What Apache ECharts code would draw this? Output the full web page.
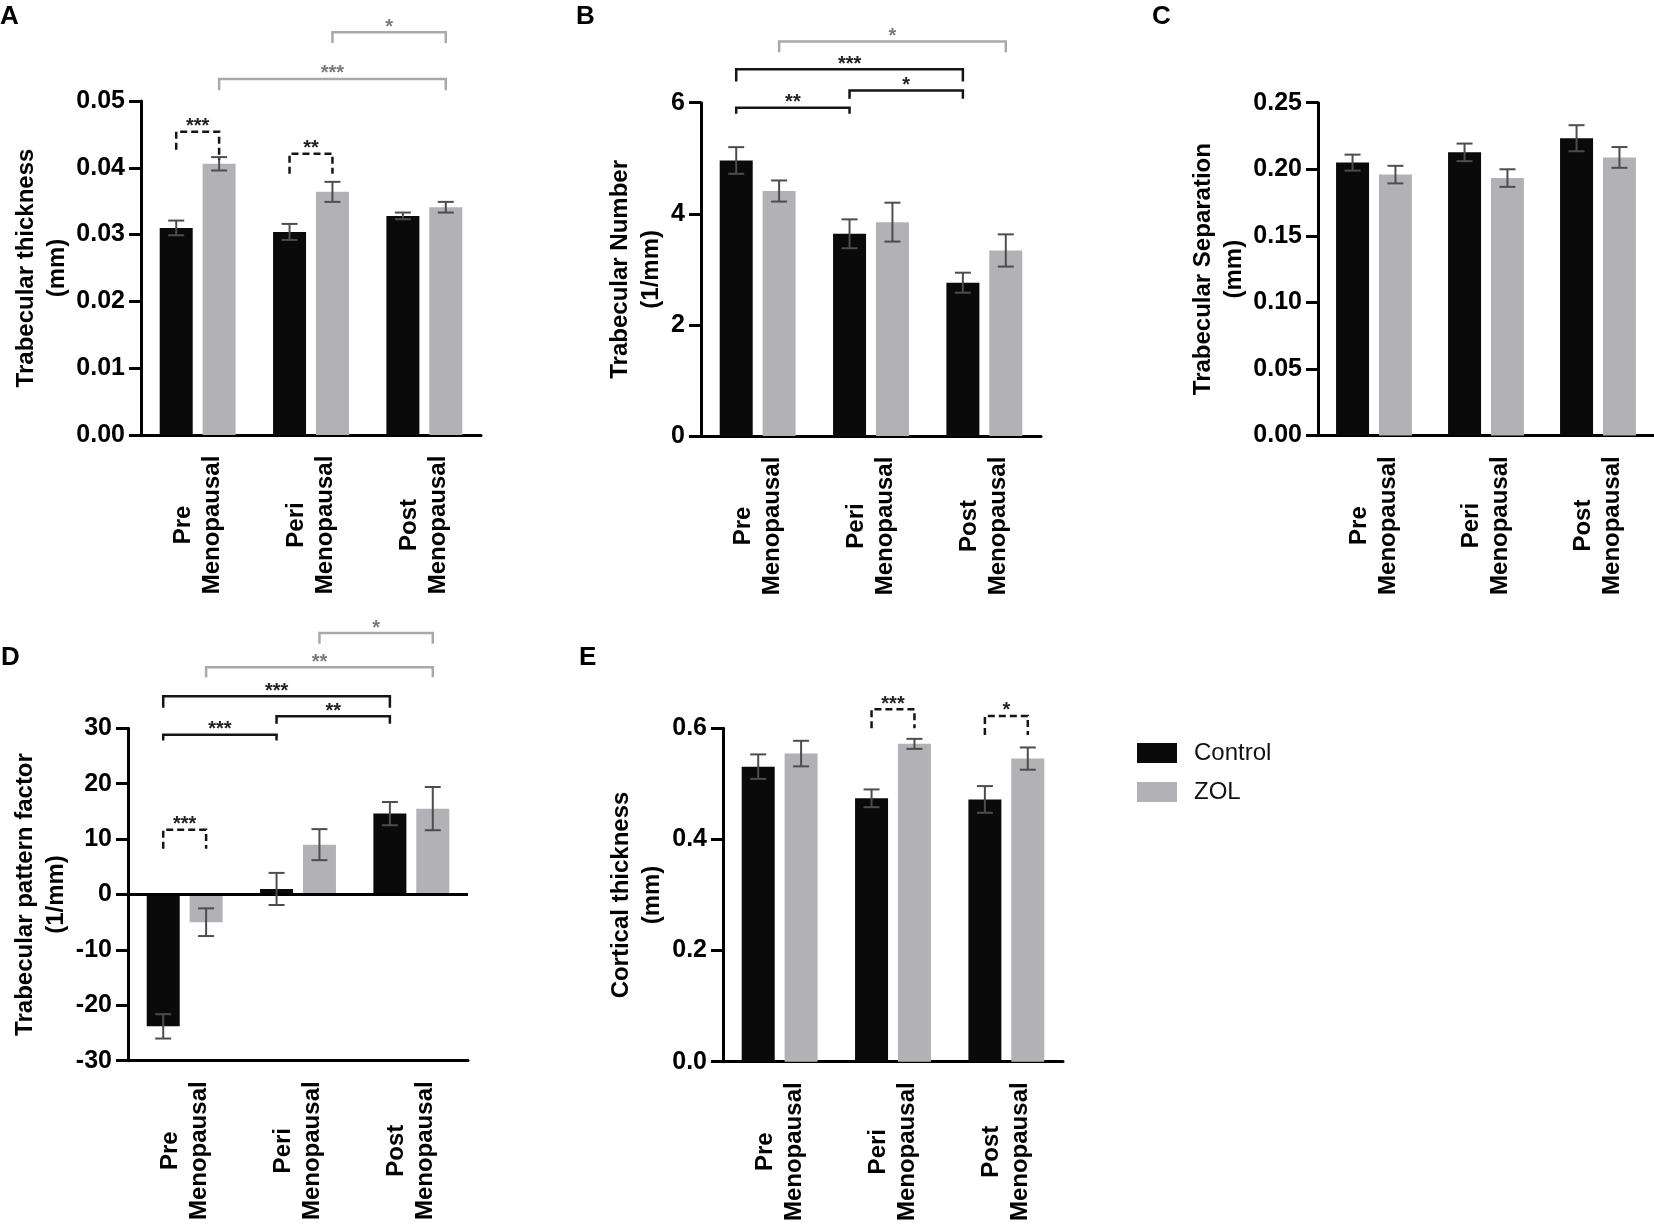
<!DOCTYPE html>
<html>
<head>
<meta charset="utf-8">
<script src="https://cdn.jsdelivr.net/npm/echarts@6/dist/echarts.min.js"></script>
<style>
html,body{margin:0;padding:0;background:#fff;}
#chart{width:1654px;height:1225px;}
</style>
</head>
<body>
<div id="chart"></div>
<script>
// ---------- data ----------
const categories = ['Pre\nMenopausal', 'Peri\nMenopausal', 'Post\nMenopausal'];
const seriesNames = ['Control', 'ZOL'];

const thicknessControl = [0.0310, 0.0304, 0.0328];
const thicknessControlErr = [0.0011, 0.0012, 0.0005];
const thicknessZOL = [0.0406, 0.0364, 0.0341];
const thicknessZOLErr = [0.0010, 0.0015, 0.0008];

const numberControl = [4.96, 3.64, 2.76];
const numberControlErr = [0.24, 0.26, 0.18];
const numberZOL = [4.41, 3.85, 3.34];
const numberZOLErr = [0.19, 0.35, 0.29];

const separationControl = [0.2050, 0.2127, 0.2233];
const separationControlErr = [0.0060, 0.0066, 0.0098];
const separationZOL = [0.1960, 0.1934, 0.2089];
const separationZOLErr = [0.0066, 0.0066, 0.0078];

const patternControl = [-23.8, 1.0, 14.6];
const patternControlErr = [2.2, 2.9, 2.1];
const patternZOL = [-5.0, 9.0, 15.5];
const patternZOLErr = [2.5, 2.8, 3.9];

const corticalControl = [0.531, 0.474, 0.472];
const corticalControlErr = [0.022, 0.016, 0.024];
const corticalZOL = [0.5545, 0.572, 0.5455];
const corticalZOLErr = [0.023, 0.009, 0.020];

// significance brackets: from/to = [category index, group index (0 Control, 1 ZOL)], y values in axis units
const bracketsA = [
  {from:[0,0], to:[0,1], y:0.0454, endL:0.0427, endR:0.0412, mark:'***', kind:'dash'},
  {from:[1,0], to:[1,1], y:0.0421, endL:0.0391, endR:0.0391, mark:'**', kind:'dash'},
  {from:[0,1], to:[2,1], y:0.0533, endL:0.0516, endR:0.0516, mark:'***', kind:'grey'},
  {from:[1,1], to:[2,1], y:0.0603, endL:0.0587, endR:0.0587, mark:'*', kind:'grey'}
];
const bracketsB = [
  {from:[0,1], to:[2,1], y:7.10, endL:6.91, endR:6.91, mark:'*', kind:'grey'},
  {from:[0,0], to:[2,0], y:6.60, endL:6.38, endR:6.38, mark:'***', kind:'black'},
  {from:[1,0], to:[2,0], y:6.22, endL:6.07, endR:6.07, mark:'*', kind:'black'},
  {from:[0,0], to:[1,0], y:5.91, endL:5.80, endR:5.80, mark:'**', kind:'black'}
];
const bracketsC = [];
const bracketsD = [
  {from:[0,0], to:[0,1], y:11.68, endL:8.25, endR:8.25, mark:'***', kind:'dash'},
  {from:[0,0], to:[1,0], y:28.83, endL:27.8, endR:27.8, mark:'***', kind:'black'},
  {from:[1,0], to:[2,0], y:32.18, endL:30.8, endR:30.8, mark:'**', kind:'black'},
  {from:[0,0], to:[2,0], y:35.8, endL:33.7, endR:33.7, mark:'***', kind:'black'},
  {from:[0,1], to:[2,1], y:41.0, endL:39.2, endR:39.2, mark:'**', kind:'grey'},
  {from:[1,1], to:[2,1], y:47.2, endL:45.25, endR:45.25, mark:'*', kind:'grey'}
];
const bracketsE = [
  {from:[1,0], to:[1,1], y:0.6344, endL:0.600, endR:0.600, mark:'***', kind:'dash'},
  {from:[2,0], to:[2,1], y:0.6223, endL:0.588, endR:0.588, mark:'*', kind:'dash'}
];

// ---------- layout / style ----------
const FONT = '"Liberation Sans", Arial, Helvetica, sans-serif';
const BAR_W = 33, BAR_GAP = 0.3;
const BAR_OFFSET = (BAR_W + BAR_W * BAR_GAP) / 2;
const CAP = 8;
const COLORS = ['#0a0a0a', '#b2b2b6'];
const ERR_COLOR = '#4d4d4d';

const panels = [
  {letter:'A', lx:0, ly:4, axisX:143, top:101, bottom:435, width:340, min:0, max:0.05, step:0.01, dec:2,
   name:'Trabecular thickness\n(mm)', nameGap:58, ctrl:thicknessControl, ctrlErr:thicknessControlErr, zol:thicknessZOL, zolErr:thicknessZOLErr, brackets:bracketsA},
  {letter:'B', lx:576, ly:4, axisX:703, top:102.7, bottom:436, width:340, min:0, max:6, step:2, dec:0,
   name:'Trabecular Number\n(1/mm)', nameGap:26, ctrl:numberControl, ctrlErr:numberControlErr, zol:numberZOL, zolErr:numberZOLErr, brackets:bracketsB},
  {letter:'C', lx:1152, ly:4, axisX:1320, top:102.7, bottom:435.6, width:336, min:0, max:0.25, step:0.05, dec:2,
   name:'Trabecular Separation\n(mm)', nameGap:65, ctrl:separationControl, ctrlErr:separationControlErr, zol:separationZOL, zolErr:separationZOLErr, brackets:bracketsC},
  {letter:'D', lx:1, ly:645, axisX:130, top:728.3, bottom:1060.7, width:340, min:-30, max:30, step:10, dec:0,
   name:'Trabecular pattern factor\n(1/mm)', nameGap:46, ctrl:patternControl, ctrlErr:patternControlErr, zol:patternZOL, zolErr:patternZOLErr, brackets:bracketsD, zeroLine:true},
  {letter:'E', lx:579, ly:645, axisX:725, top:728.3, bottom:1061.7, width:340, min:0, max:0.6, step:0.2, dec:1,
   name:'Cortical thickness\n(mm)', nameGap:45, ctrl:corticalControl, ctrlErr:corticalControlErr, zol:corticalZOL, zolErr:corticalZOLErr, brackets:bracketsE}
];

function errRender(group) {
  return function (params, api) {
    const cat = api.value(0), lo = api.value(1), hi = api.value(2);
    const off = (group === 0 ? -1 : 1) * BAR_OFFSET;
    const pLo = api.coord([cat, lo]), pHi = api.coord([cat, hi]);
    const x = pLo[0] + off;
    const style = {stroke: ERR_COLOR, lineWidth: 2};
    return {type:'group', children:[
      {type:'line', shape:{x1:x, y1:pLo[1], x2:x, y2:pHi[1]}, style:style},
      {type:'line', shape:{x1:x-CAP, y1:pHi[1], x2:x+CAP, y2:pHi[1]}, style:style},
      {type:'line', shape:{x1:x-CAP, y1:pLo[1], x2:x+CAP, y2:pLo[1]}, style:style}
    ]};
  };
}

function bracketRender(list) {
  return function (params, api) {
    const b = list[params.dataIndex];
    const pa = api.coord([b.from[0], b.y]);
    const pb = api.coord([b.to[0], b.y]);
    const xa = pa[0] + (b.from[1] === 0 ? -1 : 1) * BAR_OFFSET;
    const xb = pb[0] + (b.to[1] === 0 ? -1 : 1) * BAR_OFFSET;
    const y = pa[1];
    const yl = api.coord([b.from[0], b.endL])[1];
    const yr = api.coord([b.to[0], b.endR])[1];
    const lineColor = b.kind === 'grey' ? '#a9a9a9' : '#151515';
    const textColor = b.kind === 'grey' ? '#7a7a7a' : '#222';
    return {type:'group', children:[
      {type:'polyline', shape:{points:[[xa,yl],[xa,y],[xb,y],[xb,yr]]},
       style:{stroke:lineColor, lineWidth:2.5, fill:'none', lineDash: b.kind === 'dash' ? [7,4] : null}},
      {type:'text', style:{text:b.mark, x:(xa+xb)/2, y:y-5, fill:textColor,
       font:'bold 20px ' + FONT, align:'center', verticalAlign:'middle'}}
    ]};
  };
}

const option = {
  animation: false,
  backgroundColor: '#fff',
  title: panels.map(p => ({text:p.letter, left:p.lx, top:p.ly, padding:0,
    textStyle:{fontFamily:FONT, fontSize:26, fontWeight:'bold', color:'#000'}})),
  legend: {
    data: seriesNames, orient:'vertical', left:1132, top:736, itemWidth:40, itemHeight:20, itemGap:15,
    icon:'rect', textStyle:{fontFamily:FONT, fontSize:24, color:'#111', padding:[0,0,0,12]}
  },
  grid: panels.map(p => ({left:p.axisX - 2, top:p.top, width:p.width, height:p.bottom - p.top, containLabel:false})),
  xAxis: panels.map((p, i) => ({
    type:'category', gridIndex:i, data:categories,
    axisLine:{onZero:false, lineStyle:{color:'#000', width:3}},
    axisTick:{alignWithLabel:true, length:12, lineStyle:{color:'#000', width:3}},
    axisLabel:{interval:0, rotate:90, align:'center', verticalAlign:'middle', margin:90,
      fontFamily:FONT, fontSize:24, fontWeight:'bold', color:'#000', lineHeight:29},
    splitLine:{show:false}
  })),
  yAxis: panels.map((p, i) => ({
    type:'value', gridIndex:i, min:p.min, max:p.max, interval:p.step,
    axisLine:{show:true, lineStyle:{color:'#000', width:3}},
    axisTick:{show:true, length:12, lineStyle:{color:'#000', width:3}},
    axisLabel:{margin:16, fontFamily:FONT, fontSize:25, fontWeight:'bold', color:'#000',
      formatter: v => Number(v).toFixed(p.dec)},
    splitLine:{show:false},
    name:p.name, nameLocation:'middle', nameGap:p.nameGap,
    nameTextStyle:{fontFamily:FONT, fontSize:24, fontWeight:'bold', color:'#000', lineHeight:31}
  })),
  series: []
};

panels.forEach((p, i) => {
  const groups = [[p.ctrl, p.ctrlErr], [p.zol, p.zolErr]];
  groups.forEach((g, k) => {
    const s = {
      type:'bar', name:seriesNames[k], xAxisIndex:i, yAxisIndex:i, data:g[0],
      barWidth:BAR_W, barGap:(BAR_GAP*100)+'%', itemStyle:{color:COLORS[k]}, silent:true
    };
    if (p.zeroLine && k === 0) {
      s.markLine = {silent:true, symbol:['none','none'], label:{show:false},
        lineStyle:{color:'#000', width:3, type:'solid'}, data:[{yAxis:0}]};
    }
    option.series.push(s);
  });
  groups.forEach((g, k) => {
    option.series.push({
      type:'custom', name:seriesNames[k] + ' error', xAxisIndex:i, yAxisIndex:i, clip:false, silent:true, z:5,
      renderItem: errRender(k),
      encode:{x:0, y:[1,2]},
      data: g[0].map((v, c) => [c, v - g[1][c], v + g[1][c]])
    });
  });
  if (p.brackets.length) {
    option.series.push({
      type:'custom', name:'significance', xAxisIndex:i, yAxisIndex:i, clip:false, silent:true, z:6,
      renderItem: bracketRender(p.brackets),
      encode:{x:0, y:1},
      data: p.brackets.map(b => [b.from[0], b.y])
    });
  }
});

const chart = echarts.init(document.getElementById('chart'), null, {renderer:'canvas'});
chart.setOption(option);
</script>
</body>
</html>
